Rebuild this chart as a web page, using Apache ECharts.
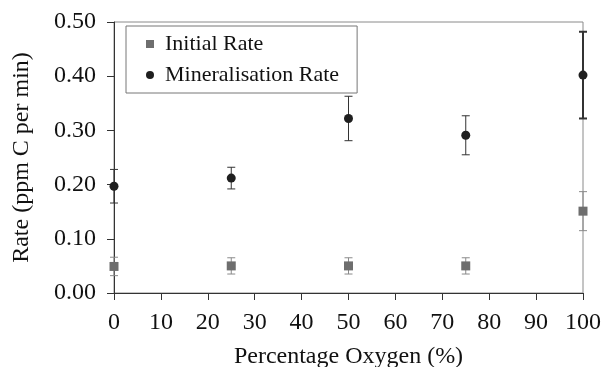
<!DOCTYPE html>
<html>
<head>
<meta charset="utf-8">
<script src="https://cdn.jsdelivr.net/npm/echarts@6/dist/echarts.min.js"></script>
<style>
  * { margin: 0; padding: 0; }
  #main { width: 603px; height: 367px; background: #fff; }
</style>
</head>
<body>
<div id="main"></div>
<script>
// values
var oxygen = [0, 25, 50, 75, 100];
var initialRate = [0.049, 0.050, 0.050, 0.050, 0.151];
var initialErr = [0.017, 0.015, 0.015, 0.015, 0.036];
var mineralRate = [0.197, 0.212, 0.322, 0.291, 0.402];
var mineralErr = [0.031, 0.020, 0.041, 0.036, 0.080];

function errData(vals, errs) {
  return oxygen.map(function (x, i) {
    return [x, vals[i] - errs[i], vals[i] + errs[i]];
  });
}

function errBars(color, width, cap) {
  return function (params, api) {
    var top = api.coord([api.value(0), api.value(2)]);
    var bot = api.coord([api.value(0), api.value(1)]);
    var st = { stroke: color, lineWidth: width };
    return {
      type: 'group',
      children: [
        { type: 'line', shape: { x1: top[0], y1: top[1], x2: bot[0], y2: bot[1] }, style: st },
        { type: 'line', shape: { x1: top[0] - cap, y1: top[1], x2: top[0] + cap, y2: top[1] }, style: st },
        { type: 'line', shape: { x1: bot[0] - cap, y1: bot[1], x2: bot[0] + cap, y2: bot[1] }, style: st }
      ]
    };
  };
}

var font = '"Liberation Serif", "Times New Roman", serif';
var chart = echarts.init(document.getElementById('main'));
chart.setOption({
  animation: false,
  textStyle: { fontFamily: font },
  grid: {
    left: 114, right: 20, top: 22, bottom: 74,
    outerBoundsMode: 'none',
    show: true, borderColor: '#8a8a8a', borderWidth: 1
  },
  legend: {
    orient: 'vertical',
    left: 126, top: 26,
    padding: [7, 18, 7, 20],
    itemGap: 9,
    itemWidth: 8, itemHeight: 8,
    borderColor: '#777', borderWidth: 1,
    textStyle: { fontFamily: font, fontSize: 22, color: '#111', padding: [0, 0, 0, 6] },
    data: [
      { name: 'Initial Rate', icon: 'rect' },
      { name: 'Mineralisation Rate', icon: 'circle' }
    ]
  },
  xAxis: {
    type: 'value', min: 0, max: 100, interval: 10,
    name: 'Percentage Oxygen (%)', nameLocation: 'middle', nameGap: 52,
    nameTextStyle: { fontFamily: font, fontSize: 24, color: '#111' },
    axisLine: { lineStyle: { color: '#333' } },
    axisTick: { length: 7, lineStyle: { color: '#333' } },
    axisLabel: { fontFamily: font, fontSize: 24, color: '#111', margin: 18 },
    splitLine: { show: false }
  },
  yAxis: {
    type: 'value', min: 0, max: 0.5, interval: 0.1,
    name: 'Rate (ppm C per min)', nameLocation: 'middle', nameGap: 80,
    nameTextStyle: { fontFamily: font, fontSize: 24, color: '#111' },
    axisLine: { show: true, lineStyle: { color: '#333' } },
    axisTick: { show: true, length: 7, lineStyle: { color: '#333' } },
    axisLabel: {
      fontFamily: font, fontSize: 24, color: '#111', margin: 18,
      formatter: function (v) { return v.toFixed(2); }
    },
    splitLine: { show: false }
  },
  series: [
    {
      name: 'Initial Rate err', type: 'custom',
      renderItem: errBars('#8a8a8a', 1, 4),
      data: errData(initialRate, initialErr), z: 2
    },
    {
      name: 'Mineralisation Rate err', type: 'custom',
      renderItem: function (params, api) {
        var w = api.value(0) === 100 ? 2 : 1;
        return errBars('#333', w, 4)(params, api);
      },
      data: errData(mineralRate, mineralErr), z: 2
    },
    {
      name: 'Initial Rate', type: 'scatter', symbol: 'rect', symbolSize: 9,
      itemStyle: { color: '#6e6e6e', opacity: 1 },
      data: oxygen.map(function (x, i) { return [x, initialRate[i]]; }), z: 3
    },
    {
      name: 'Mineralisation Rate', type: 'scatter', symbol: 'circle', symbolSize: 9,
      itemStyle: { color: '#1f1f1f', opacity: 1 },
      data: oxygen.map(function (x, i) { return [x, mineralRate[i]]; }), z: 3
    }
  ]
});
</script>
</body>
</html>
